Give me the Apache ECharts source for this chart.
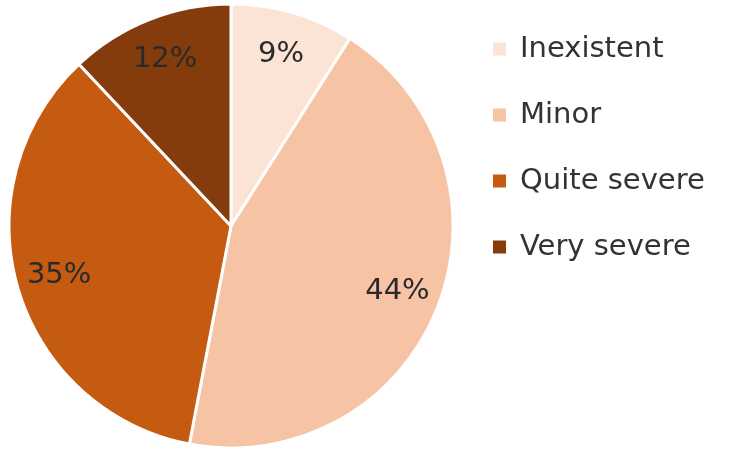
<!DOCTYPE html>
<html><head><meta charset="utf-8">
<script src="https://cdn.jsdelivr.net/npm/echarts@6/dist/echarts.min.js"></script>
<style>html,body{margin:0;padding:0;background:#fff}#c{width:732px;height:451px}</style>
</head><body><div id="c"></div>
<script>
const categories = ['Inexistent', 'Minor', 'Quite severe', 'Very severe'];
const values = [9, 44, 35, 12];
const colors = ['#FBE3D6', '#F7C3A5', '#C55A11', '#843C0C'];

const chart = echarts.init(document.getElementById('c'));
const pieData = categories.map((n, i) => ({ name: n, value: values[i], itemStyle: { color: colors[i] } }));
chart.setOption({
  animation: false,
  legend: {
    orient: 'vertical', left: 486, top: 26,
    icon: 'rect', itemWidth: 15, itemHeight: 15, itemGap: 30,
    textStyle: { fontFamily: 'DejaVu Sans', fontSize: 29, color: '#333333', lineHeight: 36, padding: [0, 0, 0, 8] },
    data: categories
  },
  series: [
    {
      type: 'pie', center: [231, 226], radius: [0, 222], startAngle: 90, clockwise: true,
      itemStyle: { borderColor: '#fff', borderWidth: 3 },
      label: { show: false }, labelLine: { show: false }, emphasis: { disabled: true },
      data: pieData
    },
    {
      type: 'pie', center: [231, 226], radius: [130, 222], startAngle: 90, clockwise: true,
      silent: true, legendHoverLink: false,
      itemStyle: { color: 'rgba(0,0,0,0)', borderWidth: 0 },
      label: { show: true, position: 'inside', formatter: '{c}%', fontFamily: 'DejaVu Sans', fontSize: 29, color: '#2a2a2a' },
      labelLine: { show: false }, emphasis: { disabled: true },
      data: categories.map((n, i) => ({ name: n, value: values[i] }))
    }
  ]
});
</script></body></html>
